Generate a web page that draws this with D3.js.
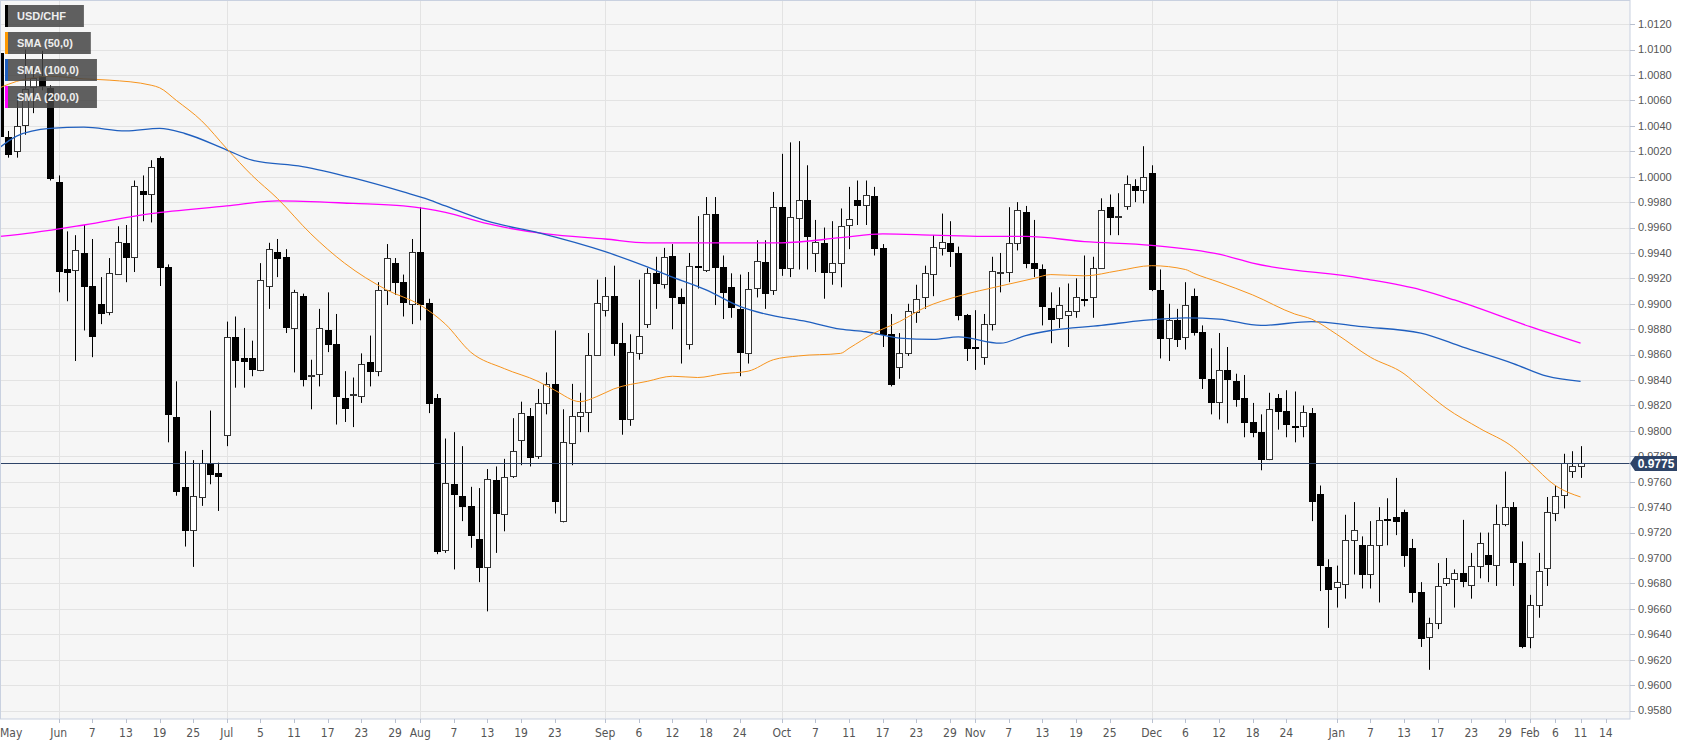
<!DOCTYPE html>
<html>
<head>
<meta charset="utf-8">
<script src="https://cdn.jsdelivr.net/npm/d3@7"></script>
<style>
body { margin: 0; background: #fff; }
svg { display: block; font-family: "Liberation Sans", Arial, sans-serif; }
</style>
</head>
<body>
<svg width="1707" height="744"></svg>
<script>
// weekday calendar of the chart (every weekday is a candle slot)
var startDate = "2019-05-23", endDate = "2020-02-14";

var open = [1.0097,1.0031,1.0020,1.0041,1.0071,1.0079,1.0070,0.9996,0.9927,0.9926,0.9940,0.9914,0.9900,0.9893,0.9924,0.9948,0.9937,0.9989,0.9987,1.0015,
	0.9929,0.9811,0.9756,0.9722,0.9748,0.9775,0.9767,0.9797,0.9874,0.9857,0.9857,0.9848,0.9914,0.9941,0.9937,0.9881,0.9906,0.9843,0.9845,0.9879,
	0.9868,0.9826,0.9828,0.9828,0.9854,0.9847,0.9911,0.9932,0.9917,0.9900,0.9941,0.9901,0.9826,0.9706,0.9758,0.9749,0.9741,0.9715,0.9693,0.9761,
	0.9735,0.9764,0.9793,0.9812,0.9780,0.9822,0.9837,0.9729,0.9791,0.9812,0.9815,0.9860,0.9895,0.9906,0.9869,0.9809,0.9862,0.9884,0.9924,0.9916,
	0.9938,0.9905,0.9869,0.9930,0.9927,0.9971,0.9929,0.9913,0.9896,0.9862,0.9913,0.9933,0.9911,0.9976,0.9928,0.9968,0.9982,0.9940,0.9948,0.9925,
	0.9932,0.9962,0.9982,0.9978,0.9985,0.9944,0.9876,0.9850,0.9861,0.9894,0.9905,0.9924,0.9944,0.9948,0.9940,0.9891,0.9866,0.9858,0.9884,0.9925,
	0.9925,0.9948,0.9972,0.9932,0.9927,0.9897,0.9889,0.9891,0.9894,0.9904,0.9905,0.9928,0.9976,0.9969,0.9977,0.9993,0.9990,1.0003,0.9911,0.9873,
	0.9887,0.9874,0.9906,0.9878,0.9841,0.9823,0.9848,0.9839,0.9826,0.9807,0.9799,0.9778,0.9826,0.9816,0.9804,0.9804,0.9814,0.9750,0.9693,0.9677,
	0.9679,0.9714,0.9710,0.9687,0.9710,0.9731,0.9732,0.9736,0.9708,0.9673,0.9638,0.9649,0.9680,0.9683,0.9688,0.9679,0.9694,0.9702,0.9695,0.9727,
	0.9740,0.9696,0.9638,0.9663,0.9692,0.9736,0.9750,0.9768,0.9773];
var high = [1.0103,1.0036,1.0063,1.0100,1.0086,1.0099,1.0072,1.0001,0.9957,0.9954,0.9962,0.9951,0.9921,0.9936,0.9961,0.9962,0.9997,1.0001,1.0013,1.0016,
	0.9931,0.9839,0.9784,0.9777,0.9785,0.9816,0.9775,0.9886,0.9890,0.9881,0.9871,0.9932,0.9948,0.9951,0.9943,0.9911,0.9908,0.9856,0.9896,0.9909,
	0.9892,0.9847,0.9842,0.9861,0.9875,0.9917,0.9947,0.9936,0.9923,0.9951,0.9976,0.9904,0.9829,0.9794,0.9799,0.9788,0.9756,0.9755,0.9770,0.9772,
	0.9778,0.9810,0.9823,0.9818,0.9833,0.9846,0.9879,0.9817,0.9837,0.9830,0.9877,0.9919,0.9921,0.9930,0.9885,0.9876,0.9919,0.9928,0.9937,0.9944,
	0.9947,0.9912,0.9940,0.9969,0.9984,0.9984,0.9938,0.9924,0.9923,0.9925,0.9950,0.9950,0.9988,1.0018,1.0027,1.0028,1.0009,0.9966,0.9960,0.9965,
	0.9975,0.9992,0.9997,0.9997,0.9992,0.9947,0.9892,0.9877,0.9900,0.9915,0.9930,0.9954,0.9971,0.9965,0.9945,0.9892,0.9895,0.9892,0.9937,0.9940,
	0.9976,0.9980,0.9977,0.9966,0.9931,0.9909,0.9913,0.9916,0.9920,0.9938,0.9937,0.9983,0.9986,0.9987,1.0001,0.9998,1.0024,1.0009,0.9927,0.9900,
	0.9896,0.9917,0.9912,0.9883,0.9865,0.9877,0.9866,0.9845,0.9844,0.9822,0.9813,0.9830,0.9829,0.9832,0.9831,0.9820,0.9818,0.9757,0.9699,0.9694,
	0.9734,0.9744,0.9717,0.9729,0.9740,0.9747,0.9763,0.9738,0.9715,0.9681,0.9653,0.9696,0.9700,0.9691,0.9730,0.9704,0.9720,0.9720,0.9742,0.9768,
	0.9744,0.9713,0.9671,0.9704,0.9748,0.9757,0.9782,0.9784,0.9788];
var low = [1.0028,1.0015,1.0015,1.0033,1.0050,1.0068,0.9997,0.9909,0.9902,0.9855,0.9879,0.9858,0.9884,0.9891,0.9923,0.9917,0.9925,0.9965,0.9964,0.9914,
	0.9791,0.9749,0.9709,0.9693,0.9741,0.9758,0.9737,0.9788,0.9834,0.9834,0.9843,0.9847,0.9896,0.9921,0.9877,0.9846,0.9835,0.9817,0.9835,0.9862,
	0.9805,0.9807,0.9803,0.9822,0.9835,0.9843,0.9899,0.9907,0.9890,0.9884,0.9887,0.9814,0.9703,0.9704,0.9691,0.9729,0.9708,0.9681,0.9658,0.9704,
	0.9721,0.9763,0.9773,0.9772,0.9778,0.9813,0.9735,0.9728,0.9773,0.9799,0.9799,0.9859,0.9890,0.9859,0.9797,0.9804,0.9856,0.9881,0.9896,0.9912,
	0.9880,0.9853,0.9864,0.9912,0.9925,0.9899,0.9888,0.9889,0.9843,0.9853,0.9905,0.9896,0.9907,0.9922,0.9921,0.9927,0.9927,0.9925,0.9904,0.9915,
	0.9913,0.9943,0.9962,0.9962,0.9938,0.9866,0.9835,0.9841,0.9859,0.9885,0.9896,0.9906,0.9938,0.9929,0.9887,0.9855,0.9848,0.9852,0.9879,0.9909,
	0.9917,0.9942,0.9928,0.9921,0.9883,0.9869,0.9881,0.9866,0.9889,0.9898,0.9889,0.9928,0.9954,0.9954,0.9974,0.9980,0.9979,0.9910,0.9857,0.9855,
	0.9866,0.9864,0.9875,0.9833,0.9813,0.9809,0.9806,0.9819,0.9795,0.9795,0.9769,0.9777,0.9801,0.9795,0.9791,0.9795,0.9729,0.9674,0.9645,0.9661,
	0.9668,0.9687,0.9676,0.9676,0.9665,0.9710,0.9718,0.9693,0.9665,0.9630,0.9612,0.9644,0.9678,0.9661,0.9677,0.9668,0.9684,0.9681,0.9678,0.9725,
	0.9678,0.9629,0.9629,0.9653,0.9678,0.9729,0.9739,0.9763,0.9763];
var close = [1.0032,1.0018,1.0040,1.0069,1.0078,1.0071,0.9999,0.9926,0.9925,0.9942,0.9914,0.9875,0.9893,0.9924,0.9949,0.9937,0.9993,0.9987,1.0008,0.9929,
	0.9813,0.9753,0.9722,0.9749,0.9775,0.9766,0.9765,0.9874,0.9856,0.9855,0.9848,0.9919,0.9943,0.9936,0.9882,0.9909,0.9841,0.9844,0.9881,0.9868,
	0.9827,0.9818,0.9829,0.9853,0.9847,0.9911,0.9936,0.9917,0.9901,0.9941,0.9900,0.9822,0.9706,0.9759,0.9750,0.9741,0.9718,0.9693,0.9762,0.9735,
	0.9764,0.9784,0.9814,0.9780,0.9822,0.9837,0.9745,0.9791,0.9812,0.9815,0.9860,0.9901,0.9906,0.9869,0.9809,0.9862,0.9875,0.9924,0.9916,0.9937,
	0.9906,0.9900,0.9930,0.9929,0.9971,0.9929,0.9909,0.9897,0.9862,0.9912,0.9934,0.9909,0.9976,0.9928,0.9968,0.9982,0.9954,0.9949,0.9925,0.9932,
	0.9961,0.9967,0.9978,0.9986,0.9944,0.9876,0.9837,0.9861,0.9894,0.9904,0.9924,0.9945,0.9949,0.9942,0.9891,0.9865,0.9865,0.9884,0.9926,0.9925,
	0.9948,0.9974,0.9932,0.9928,0.9898,0.9888,0.9899,0.9894,0.9905,0.9903,0.9928,0.9974,0.9968,0.9969,0.9994,0.9990,1.0000,0.9912,0.9873,0.9887,
	0.9872,0.9899,0.9878,0.9842,0.9823,0.9848,0.9841,0.9825,0.9807,0.9799,0.9778,0.9817,0.9816,0.9806,0.9803,0.9815,0.9745,0.9694,0.9676,0.9681,
	0.9714,0.9722,0.9687,0.9710,0.9730,0.9730,0.9729,0.9702,0.9673,0.9637,0.9649,0.9678,0.9684,0.9688,0.9682,0.9694,0.9712,0.9695,0.9727,0.9740,
	0.9697,0.9631,0.9663,0.9690,0.9736,0.9749,0.9775,0.9772,0.9775];

// moving averages at these candle positions
var sma50Days = [0,2,6,10,13,18,19,21,24,27,30,33,37,41,46,50,53,56,60,64,66,69,71,73,77,80,83,86,89,92,95,100,101,104,107,110,114,119,123,125,129,133,137,141,142,145,149,154,156,159,163,167,169,172,176,180,182,185,188];
var sma50 = [1.0070,1.0075,1.0079,1.0077,1.0076,1.0072,1.0070,1.0060,1.0044,1.0022,1.0001,0.9983,0.9955,0.9932,0.9911,0.9899,0.9884,0.9862,0.9849,0.9839,0.9832,0.9823,0.9827,0.9833,0.9839,0.9843,0.9842,0.9845,0.9847,0.9856,0.9859,0.9861,0.9865,0.9877,0.9886,0.9897,0.9906,0.9914,0.9920,0.9923,0.9922,0.9926,0.9930,0.9927,0.9924,0.9917,0.9907,0.9892,0.9888,0.9876,0.9858,0.9845,0.9834,0.9818,0.9802,0.9787,0.9775,0.9757,0.9748];
var sma100Days = [0,2,6,10,15,19,22,27,30,36,42,48,51,53,58,64,72,77,80,84,88,91,96,100,103,107,111,114,119,122,125,131,136,141,145,150,156,162,169,174,180,184,188];
var sma100 = [1.0023,1.0032,1.0038,1.0039,1.0036,1.0038,1.0034,1.0021,1.0013,1.0008,0.9999,0.9988,0.9982,0.9977,0.9965,0.9956,0.9941,0.9929,0.9921,0.9911,0.9898,0.9892,0.9886,0.9880,0.9878,0.9873,0.9872,0.9874,0.9869,0.9875,0.9879,0.9883,0.9887,0.9889,0.9888,0.9883,0.9886,0.9882,0.9877,0.9866,0.9853,0.9843,0.9839];
var sma200Days = [0,4,10,18,27,33,42,48,53,58,65,72,77,88,93,100,105,111,117,122,129,137,145,149,162,169,173,182,188];
var sma200 = [0.9953,0.9956,0.9962,0.9971,0.9977,0.9981,0.9979,0.9977,0.9972,0.9963,0.9955,0.9951,0.9948,0.9948,0.9948,0.9952,0.9955,0.9954,0.9953,0.9953,0.9949,0.9946,0.9939,0.9932,0.9920,0.9911,0.9903,0.9882,0.9869];

var yTickValues = [0.9580,0.9600,0.9620,0.9640,0.9660,0.9680,0.9700,0.9720,0.9740,0.9760,0.9780,0.9800,0.9820,0.9840,0.9860,0.9880,0.9900,0.9920,0.9940,0.9960,0.9980,1.0000,1.0020,1.0040,1.0060,1.0080,1.0100,1.0120];
var xTickDates = ["2019-05-23","2019-06-03","2019-06-07","2019-06-13","2019-06-19","2019-06-25","2019-07-01","2019-07-05","2019-07-11","2019-07-17","2019-07-23","2019-07-29",
	"2019-08-01","2019-08-07","2019-08-13","2019-08-19","2019-08-23","2019-09-02","2019-09-06","2019-09-12","2019-09-18","2019-09-24","2019-10-01","2019-10-07","2019-10-11",
	"2019-10-17","2019-10-23","2019-10-29","2019-11-01","2019-11-07","2019-11-13","2019-11-19","2019-11-25","2019-12-02","2019-12-06","2019-12-12","2019-12-18","2019-12-24",
	"2020-01-01","2020-01-07","2020-01-13","2020-01-17","2020-01-23","2020-01-29","2020-02-03","2020-02-06","2020-02-11","2020-02-14"];
var xTickLabels = ["May","Jun","7","13","19","25","Jul","5","11","17","23","29","Aug","7","13","19","23","Sep","6","12","18","24","Oct","7","11",
	"17","23","29","Nov","7","13","19","25","Dec","6","12","18","24","Jan","7","13","17","23","29","Feb","6","11","14"];

var legendLabels = ["USD/CHF", "SMA (50,0)", "SMA (100,0)", "SMA (200,0)"];
var legendColors = ["#000000", "#ff9900", "#1f5fbf", "#ff00ff"];

var svg = d3.select("svg"),
	width = +svg.attr("width"),
	height = +svg.attr("height");

var plotW = 1630, plotH = 719;

var parse = d3.timeParse("%Y-%m-%d"), fmt = d3.timeFormat("%Y-%m-%d");
var days = d3.timeDay.range(parse(startDate), d3.timeDay.offset(parse(endDate), 1))
	.filter(function(d) { return d.getDay() % 6 !== 0; });
var dayIndex = new Map(days.map(function(d, i) { return [fmt(d), i]; }));

var x = d3.scaleLinear().domain([0, days.length - 1]).range([-0.2, 1605.8]);
var y = d3.scaleLinear().domain([0.9580, 1.0120]).range([710.5, 24.2]);

var candles = open.map(function(o, i) {
	return {i: i, o: o, h: high[i], l: low[i], c: close[i]};
});

svg.append("defs").append("clipPath").attr("id", "plot")
	.append("rect").attr("width", plotW).attr("height", plotH);

//plot background
svg.append("rect").attr("width", plotW).attr("height", plotH).attr("fill", "#f6f6f6");

var plot = svg.append("g").attr("clip-path", "url(#plot)");

//grid
plot.selectAll(".hgrid").data(yTickValues).enter().append("line")
	.attr("x1", 0).attr("x2", plotW)
	.attr("y1", function(d) { return Math.round(y(d)) + 0.5; })
	.attr("y2", function(d) { return Math.round(y(d)) + 0.5; })
	.attr("stroke", "#e3e3e3");

var monthTicks = xTickDates.filter(function(d, k) { return k > 0 && isNaN(+xTickLabels[k]); });
plot.selectAll(".vgrid").data(monthTicks).enter().append("line")
	.attr("x1", function(d) { return Math.round(x(dayIndex.get(d))) + 0.5; })
	.attr("x2", function(d) { return Math.round(x(dayIndex.get(d))) + 0.5; })
	.attr("y1", 0).attr("y2", plotH)
	.attr("stroke", "#e3e3e3");

//candles
var cx = function(d) { return Math.round(x(d.i)) + 0.5; };
var candle = plot.selectAll(".candle").data(candles).enter().append("g");

candle.append("line")
	.attr("x1", cx).attr("x2", cx)
	.attr("y1", function(d) { return y(d.h); })
	.attr("y2", function(d) { return y(d.l); })
	.attr("stroke", "#000");

candle.append("rect")
	.attr("x", function(d) { return cx(d) - 3; })
	.attr("width", 6)
	.attr("y", function(d) { return Math.round(y(Math.max(d.o, d.c))) + 0.5; })
	.attr("height", function(d) { return Math.max(1, Math.round(Math.abs(y(d.o) - y(d.c)))); })
	.attr("fill", function(d) { return d.c >= d.o ? "#fff" : "#000"; })
	.attr("stroke", function(d) { return d.c >= d.o ? "#333" : "#000"; });

//moving averages
var line = d3.line()
	.x(function(d) { return x(d[0]); })
	.y(function(d) { return y(d[1]); })
	.curve(d3.curveMonotoneX);

[[sma200Days, sma200, "#ff00ff", 1.3], [sma100Days, sma100, "#1f5fbf", 1.3], [sma50Days, sma50, "#f7941d", 1]]
	.forEach(function(s) {
		plot.append("path")
			.datum(s[0].map(function(d, k) { return [d, s[1][k]]; }))
			.attr("d", line)
			.attr("fill", "none")
			.attr("stroke", s[2])
			.attr("stroke-width", s[3]);
	});

//last price line
var last = close[close.length - 1];
var yLast = Math.round(y(last)) + 0.5;
svg.append("line")
	.attr("x1", 0).attr("x2", plotW)
	.attr("y1", yLast).attr("y2", yLast)
	.attr("stroke", "#2e4468");

//frame
svg.append("rect")
	.attr("x", 0.5).attr("y", 0.5)
	.attr("width", plotW - 0.5).attr("height", plotH - 0.5)
	.attr("fill", "none").attr("stroke", "#c9d1e0");

//right axis
var yAxis = svg.append("g");
yAxis.selectAll("line").data(yTickValues).enter().append("line")
	.attr("x1", plotW).attr("x2", plotW + 5)
	.attr("y1", function(d) { return Math.round(y(d)) + 0.5; })
	.attr("y2", function(d) { return Math.round(y(d)) + 0.5; })
	.attr("stroke", "#b8c0d0");
yAxis.selectAll("text").data(yTickValues).enter().append("text")
	.attr("x", plotW + 8)
	.attr("y", function(d) { return y(d); })
	.attr("dy", "0.35em")
	.attr("font-size", 11)
	.attr("fill", "#555")
	.text(d3.format(".4f"));

//price tag
svg.append("path")
	.attr("d", "M" + plotW + "," + yLast + "l5,-7.5h42v15h-42z")
	.attr("fill", "#2e4468");
svg.append("text")
	.attr("x", plotW + 26).attr("y", yLast)
	.attr("dy", "0.35em")
	.attr("text-anchor", "middle")
	.attr("font-size", 12).attr("font-weight", "bold")
	.attr("fill", "#fff")
	.text(d3.format(".4f")(last));

//bottom axis
var xAxis = svg.append("g");
xAxis.selectAll("line").data(xTickDates.slice(1)).enter().append("line")
	.attr("x1", function(d) { return Math.round(x(dayIndex.get(d))) + 0.5; })
	.attr("x2", function(d) { return Math.round(x(dayIndex.get(d))) + 0.5; })
	.attr("y1", plotH).attr("y2", plotH + 4)
	.attr("stroke", "#b8c0d0");
xAxis.selectAll("text").data(xTickDates).enter().append("text")
	.attr("x", function(d, k) { return k === 0 ? 0 : x(dayIndex.get(d)); })
	.attr("y", 737)
	.attr("text-anchor", function(d, k) { return k === 0 ? "start" : "middle"; })
	.attr("font-family", "'Liberation Sans Narrow', 'Arial Narrow', 'DejaVu Sans Condensed', sans-serif")
	.attr("font-size", 12)
	.attr("fill", "#555")
	.text(function(d, k) { return xTickLabels[k]; });

//legend
var legend = svg.append("g").selectAll("g").data(legendLabels).enter().append("g")
	.attr("transform", function(d, k) { return "translate(5," + (5 + k * 27) + ")"; });

var box = legend.append("rect")
	.attr("height", 22)
	.attr("fill", "#444").attr("fill-opacity", 0.85);
legend.append("rect")
	.attr("width", 3).attr("height", 22)
	.attr("fill", function(d, k) { return legendColors[k]; });
var label = legend.append("text")
	.attr("x", 12).attr("y", 15)
	.attr("font-size", 11).attr("font-weight", "bold")
	.attr("fill", "#eee")
	.text(function(d) { return d; });
label.each(function(d, k) {
	d3.select(box.nodes()[k]).attr("width", this.getComputedTextLength() + 30);
});
</script>
</body>
</html>
